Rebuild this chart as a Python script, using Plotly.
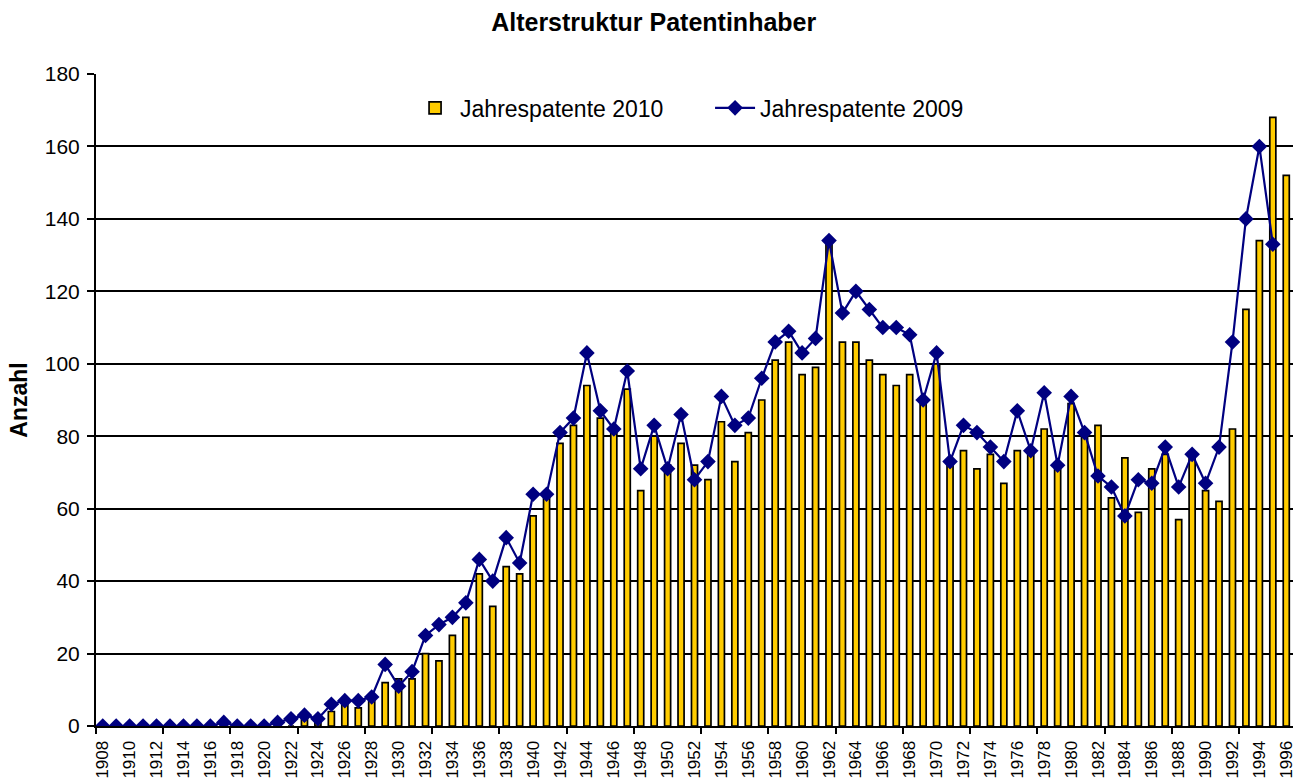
import plotly.graph_objects as go

years = list(range(1908, 1997))

patente_2010 = [0] * 15 + [
    2, 1, 4, 6, 5, 7, 12, 13, 13, 20,
    18, 25, 30, 42, 33, 44, 42, 58, 63, 78,
    83, 94, 85, 82, 93, 65, 80, 72, 78, 72,
    68, 84, 73, 81, 90, 101, 106, 97, 99, 133,
    106, 106, 101, 97, 94, 97, 90, 100, 72, 76,
    71, 75, 67, 76, 76, 82, 72, 89, 80, 83,
    63, 74, 59, 71, 75, 57, 74, 65, 62, 82,
    115, 134, 168, 152,
]

patente_2009 = [0] * 9 + [1, 0, 0, 0] + [
    1, 2, 3, 2, 6, 7, 7, 8, 17, 11,
    15, 25, 28, 30, 34, 46, 40, 52, 45, 64,
    64, 81, 85, 103, 87, 82, 98, 71, 83, 71,
    86, 68, 73, 91, 83, 85, 96, 106, 109, 103,
    107, 134, 114, 120, 115, 110, 110, 108, 90, 103,
    73, 83, 81, 77, 73, 87, 76, 92, 72, 91,
    81, 69, 66, 58, 68, 67, 77, 66, 75, 67,
    77, 106, 140, 160, 133,
] + [None]

label_years = [y for y in years if y % 2 == 0]
tick_label_text = [str(y) for y in label_years]
minor_tick_pos = [1907.5 + 5 * k for k in range(18)]
y_ticks = list(range(0, 181, 20))

FONT = "Liberation Sans, Arial, sans-serif"

fig = go.Figure()
fig.add_trace(go.Bar(
    x=years, y=patente_2010, name="Jahrespatente 2010",
    marker=dict(color="#FFCC00", line=dict(color="black", width=1.7)),
    width=0.45,
))
fig.add_trace(go.Scatter(
    x=years, y=patente_2009, name="Jahrespatente 2009",
    mode="lines+markers",
    line=dict(color="#000080", width=2.2),
    marker=dict(symbol="diamond", size=12, color="#000080"),
))

fig.update_layout(
    width=1297, height=780,
    margin=dict(l=96, r=4, t=74, b=54),
    paper_bgcolor="white", plot_bgcolor="white",
    font=dict(family=FONT, color="black"),
    title=dict(text="<b>Alterstruktur Patentinhaber</b>", x=0.504, xanchor="center",
               y=0.972, yanchor="middle", font=dict(size=25, family=FONT, color="black")),
    showlegend=True,
    legend=dict(orientation="h", x=0.513, xanchor="center", y=0.948, yanchor="middle",
                font=dict(size=23, family=FONT, color="black"), bgcolor="rgba(0,0,0,0)",
                traceorder="normal", itemwidth=40, entrywidth=245),
    bargap=0.5,
)
fig.update_xaxes(
    range=[1907.5, 1996.5], tickmode="array", tickvals=label_years, ticktext=tick_label_text,
    tickangle=-90, tickfont=dict(size=17, family=FONT, color="black"),
    ticks="", ticklabelstandoff=6, ticklabeloverflow="allow",
    showgrid=False, zeroline=False,
    showline=True, linecolor="black", linewidth=2,
    minor=dict(tickmode="array", tickvals=minor_tick_pos, ticks="outside", ticklen=6,
               tickcolor="black", tickwidth=2, showgrid=False),
    automargin=False,
)
fig.update_yaxes(
    range=[0, 180], tickmode="array", tickvals=y_ticks,
    tickfont=dict(size=21, family=FONT, color="black"),
    ticks="outside", ticklen=7, tickcolor="black", tickwidth=2, ticklabelstandoff=3,
    showgrid=True, gridcolor="black", gridwidth=2,
    showline=True, linecolor="black", linewidth=2, zeroline=False,
    title=dict(text="<b>Anzahl</b>", font=dict(size=23, family=FONT, color="black"), standoff=11),
    automargin=False,
)

fig.write_html("out.html", config={"displayModeBar": False},
               post_script="document.body.style.margin='0';")
